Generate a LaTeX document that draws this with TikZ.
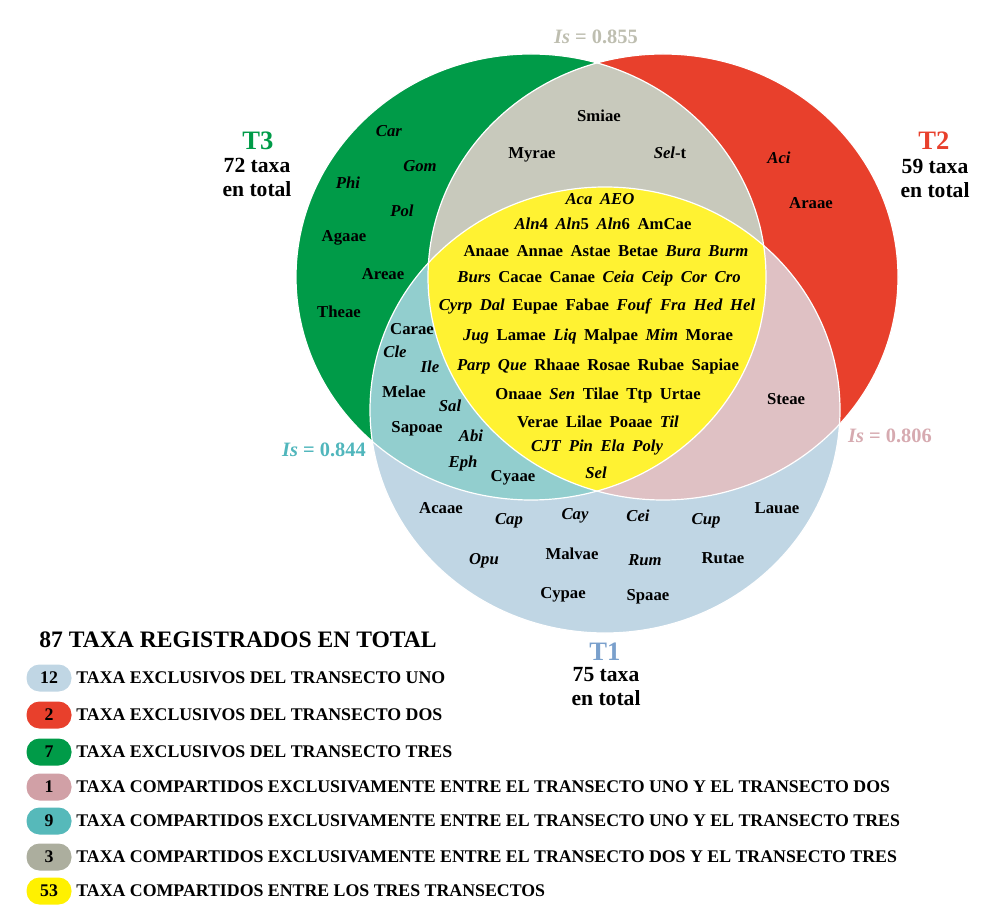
\documentclass[tikz,border=0pt]{standalone}
\usepackage{fontspec}
\setmainfont{Liberation Serif}
\definecolor{cUno}{RGB}{192,214,228}
\definecolor{cDos}{RGB}{232,64,44}
\definecolor{cTres}{RGB}{0,155,72}
\definecolor{cUnoDos}{RGB}{223,193,196}
\definecolor{cUnoTres}{RGB}{146,206,206}
\definecolor{cDosTres}{RGB}{200,201,188}
\definecolor{cTodos}{RGB}{255,242,50}
\definecolor{kUnoDos}{RGB}{209,160,166}
\definecolor{kUnoTres}{RGB}{86,185,186}
\definecolor{kDosTres}{RGB}{172,174,158}
\definecolor{kTodos}{RGB}{255,241,0}
\definecolor{isGris}{RGB}{190,190,176}
\definecolor{isTeal}{RGB}{80,182,188}
\definecolor{isRosa}{RGB}{214,170,176}
\definecolor{tAzul}{RGB}{122,160,204}
\begin{document}
\begin{tikzpicture}[x=0.5pt, y=-0.5pt,
    taxon/.style={font=\fontsize{8.35}{10}\selectfont\bfseries, inner sep=0pt},
    fila/.style={font={\fontsize{8.35}{10}\selectfont\bfseries\spaceskip=3.8pt\relax}, inner sep=0pt},
    titulo/.style={font=\fontsize{13.3}{15}\selectfont\bfseries, inner sep=0pt},
    total/.style={font=\fontsize{10.8}{12}\selectfont\bfseries, align=center, inner sep=0pt},
    indice/.style={font=\fontsize{10.2}{12}\selectfont\bfseries, inner sep=0pt},
    chip/.style={rounded corners=6.5pt, minimum width=22.5pt, minimum height=13.5pt, inner sep=0pt, font=\fontsize{8.9}{10}\selectfont\bfseries},
    leyenda/.style={font=\fontsize{8.9}{10}\selectfont\bfseries, anchor=west, inner sep=0pt}]
  \useasboundingbox (0,0) rectangle (983,913);
  \coordinate (c1) at (605,410);
  \coordinate (c2) at (663,277);
  \coordinate (c3) at (531,277);
  % transects
  \fill[cUno] (c1) ellipse [x radius=235, y radius=223];
  \fill[cDos] (c2) ellipse [x radius=235, y radius=223];
  \fill[cTres] (c3) ellipse [x radius=235, y radius=223];
  % shared by two
  \begin{scope}
    \clip (c2) ellipse [x radius=235, y radius=223];
    \fill[cDosTres] (c3) ellipse [x radius=235, y radius=223];
  \end{scope}
  \begin{scope}
    \clip (c1) ellipse [x radius=235, y radius=223];
    \fill[cUnoTres] (c3) ellipse [x radius=235, y radius=223];
  \end{scope}
  \begin{scope}
    \clip (c1) ellipse [x radius=235, y radius=223];
    \fill[cUnoDos] (c2) ellipse [x radius=235, y radius=223];
  \end{scope}
  % shared by all
  \begin{scope}
    \clip (c1) ellipse [x radius=235, y radius=223];
    \clip (c2) ellipse [x radius=235, y radius=223];
    \fill[cTodos] (c3) ellipse [x radius=235, y radius=223];
  \end{scope}
  \foreach \c in {c1, c2, c3}
    \draw[white, line width=0.6pt] (\c) ellipse [x radius=235, y radius=223];

  % headings
  \node[titulo, text=cTres] (t3) at (258,141) {T3};
  \node[total] (n3) at (257,177) {72 taxa\\en total};
  \node[titulo, text=cDos] (t2) at (934,141) {T2};
  \node[total] (n2) at (935,178) {59 taxa\\en total};
  \node[titulo, text=tAzul] (t1) at (605,652) {T1};
  \node[total] (n1) at (606,687) {75 taxa\\en total};
  \node[indice, text=isGris] (is23) at (596,37) {\textit{Is} = 0.855};
  \node[indice, text=isTeal] (is13) at (324,450) {\textit{Is} = 0.844};
  \node[indice, text=isRosa] (is12) at (890,436) {\textit{Is} = 0.806};

  % T3 only
  \foreach \t/\x/\y [count=\k] in {\textit{Car}/389/131, \textit{Gom}/420/166, \textit{Phi}/348/183,
      \textit{Pol}/402/211, Agaae/344/238, Areae/383/274, Theae/339/312}
    \node[taxon] (tres\k) at (\x,\y) {\t};
  % T2 and T3
  \foreach \t/\x/\y [count=\k] in {Smiae/599/116, Myrae/532/155, \textit{Sel}-t/670/153}
    \node[taxon] (dostres\k) at (\x,\y) {\t};
  % T2 only
  \foreach \t/\x/\y [count=\k] in {\textit{Aci}/779/158, Araae/811/203}
    \node[taxon] (dos\k) at (\x,\y) {\t};
  % T1 and T3
  \foreach \t/\x/\y [count=\k] in {Carae/412/329, \textit{Cle}/395/352, \textit{Ile}/430/367,
      Melae/404/392, \textit{Sal}/450/406, Sapoae/417/429, \textit{Abi}/471/436,
      \textit{Eph}/463/463, Cyaae/513/478}
    \node[taxon] (unotres\k) at (\x,\y) {\t};
  % T1 and T2
  \node[taxon] (unodos1) at (786,399) {Steae};
  % T1 only
  \foreach \t/\x/\y [count=\k] in {Acaae/441/508, \textit{Cap}/509/521, \textit{Cay}/575/516,
      \textit{Cei}/638/516, \textit{Cup}/706/521, Lauae/777/508, \textit{Opu}/484/561,
      Malvae/572/554, \textit{Rum}/645/560, Rutae/723/558, Cypae/563/595, Spaae/648/597}
    \node[taxon] (uno\k) at (\x,\y) {\t};
  % all three
  \foreach \x/\y/\t [count=\k] in {
      600/199/{\textit{Aca} \textit{AEO}},
      603/224/{\textit{Aln}4 \textit{Aln}5 \textit{Aln}6 AmCae},
      606/251/{Anaae Annae Astae Betae \textit{Bura} \textit{Burm}},
      599/278/{\textit{Burs} Cacae Canae \textit{Ceia} \textit{Ceip} \textit{Cor} \textit{Cro}},
      597/306/{\textit{Cyrp} \textit{Dal} Eupae Fabae \textit{Fouf} \textit{Fra} \textit{Hed} \textit{Hel}},
      598/336/{\textit{Jug} Lamae \textit{Liq} Malpae \textit{Mim} Morae},
      598/366/{\textit{Parp} \textit{Que} Rhaae Rosae Rubae Sapiae},
      598/395/{Onaae \textit{Sen} Tilae Ttp Urtae},
      598/422/{Verae Lilae Poaae \textit{Til}},
      597/448/{\textit{CJT} \textit{Pin} \textit{Ela} \textit{Poly}},
      596/473/{\textit{Sel}}}
    \node[fila] (todos\k) at (\x,\y) {\t};

  % legend
  \node[font=\fontsize{11.8}{14}\selectfont\bfseries, anchor=west, inner sep=0pt] (suma) at (39,640) {87 TAXA REGISTRADOS EN TOTAL};
  \foreach \c/\n/\y/\t [count=\k] in {
      cUno/12/678/TAXA EXCLUSIVOS DEL TRANSECTO UNO,
      cDos/2/715/TAXA EXCLUSIVOS DEL TRANSECTO DOS,
      cTres/7/752/TAXA EXCLUSIVOS DEL TRANSECTO TRES,
      kUnoDos/1/787/TAXA COMPARTIDOS EXCLUSIVAMENTE ENTRE EL TRANSECTO UNO Y EL TRANSECTO DOS,
      kUnoTres/9/821/TAXA COMPARTIDOS EXCLUSIVAMENTE ENTRE EL TRANSECTO UNO Y EL TRANSECTO TRES,
      kDosTres/3/857/TAXA COMPARTIDOS EXCLUSIVAMENTE ENTRE EL TRANSECTO DOS Y EL TRANSECTO TRES,
      kTodos/53/891/TAXA COMPARTIDOS ENTRE LOS TRES TRANSECTOS} {
    \node[chip, fill=\c] (chip\k) at (49,\y) {\n};
    \node[leyenda] (ley\k) at (76,\y) {\t};
  }
\end{tikzpicture}
\end{document}
